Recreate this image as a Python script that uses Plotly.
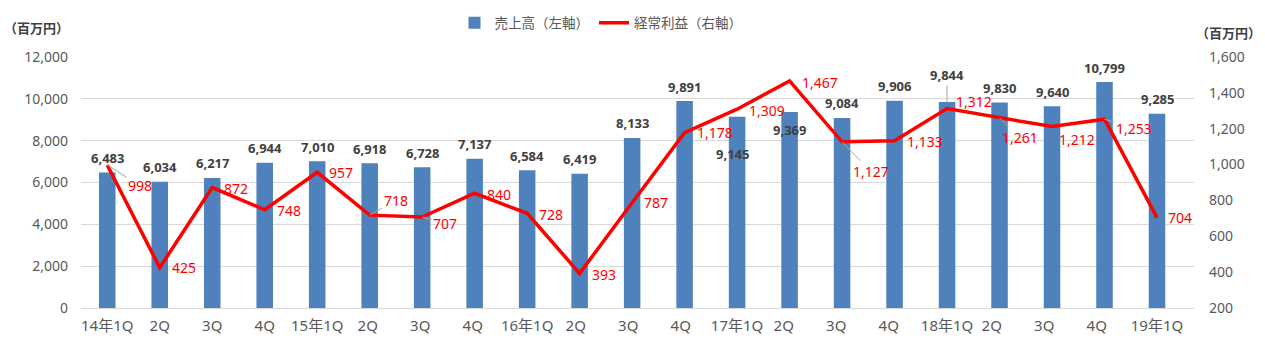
import plotly.graph_objects as go

categories = ["14年1Q", "2Q", "3Q", "4Q", "15年1Q", "2Q ", "3Q ", "4Q ", "16年1Q", "2Q  ", "3Q  ",
              "4Q  ", "17年1Q", "2Q   ", "3Q   ", "4Q   ", "18年1Q", "2Q    ", "3Q    ", "4Q    ", "19年1Q"]
sales = [6483, 6034, 6217, 6944, 7010, 6918, 6728, 7137, 6584, 6419, 8133,
         9891, 9145, 9369, 9084, 9906, 9844, 9830, 9640, 10799, 9285]
profit = [998, 425, 872, 748, 957, 718, 707, 840, 728, 393, 787,
          1178, 1309, 1467, 1127, 1133, 1312, 1261, 1212, 1253, 704]
left_ticks = [0, 2000, 4000, 6000, 8000, 10000, 12000]
right_ticks = [200, 400, 600, 800, 1000, 1200, 1400, 1600]

# label placement (pixel offsets of label centre from the mark) and leader-line flags
line_lbl_off = [(33, 21), (24, 0), (24, 1), (24, 1), (24, 0), (26, -15), (23, 6), (24, 1), (24, 1), (24, 1),
                (24, 0), (30, 0), (30, 1), (30, 2), (29, 30), (30, 1), (27, -7), (20, 20), (25, 13), (29, 9), (23, 0)]
line_leader = {0, 5, 6, 14, 17, 19}
bar_lbl_off = {12: (-5, 37), 13: (0, 18), 16: (0, -27)}
bar_leader = {16}

# plot area in pixels
L, R, T, B = 81, 1194, 57, 308
W, H = 1265, 346


def px(x):
    return (x - L) / (R - L)


def py(y):
    return (B - y) / (B - T)


BLUE = "#4F81BD"
RED = "#FF0000"
GRAY = "#595959"
DARK = "#404040"
LEADER = "#A6A6A6"
NUMFONT = "Noto Sans, Noto Sans CJK JP"
JPFONT = "Noto Sans CJK JP"

fig = go.Figure()
fig.add_trace(go.Bar(x=categories, y=sales, name="売上高（左軸）", marker=dict(color=BLUE, line=dict(width=0)),
                     yaxis="y"))
fig.add_trace(go.Scatter(x=categories, y=profit, name="経常利益（右軸）", mode="lines",
                         line=dict(color=RED, width=3.5), yaxis="y2"))

ann = []
for i, (c, v) in enumerate(zip(categories, sales)):
    ax, ay = bar_lbl_off.get(i, (0, -14.5))
    ann.append(dict(x=c, y=v, xref="x", yref="y", text=f"{v:,}", showarrow=True, ax=ax, ay=ay,
                    arrowhead=0, arrowwidth=1,
                    arrowcolor=LEADER if i in bar_leader else "rgba(0,0,0,0)",
                    font=dict(family=NUMFONT, size=13, color=DARK, weight="bold")))
for i, (c, v) in enumerate(zip(categories, profit)):
    ax, ay = line_lbl_off[i]
    ann.append(dict(x=c, y=v, xref="x", yref="y2", text=f"{v:,}", showarrow=True, ax=ax, ay=ay,
                    arrowhead=0, arrowwidth=1,
                    arrowcolor=LEADER if i in line_leader else "rgba(0,0,0,0)",
                    font=dict(family=NUMFONT, size=14, color=RED)))
ann.append(dict(x=px(36), y=py(27), xref="paper", yref="paper", text="（百万円）", showarrow=False,
                xanchor="center", yanchor="middle",
                font=dict(family=JPFONT, size=13, color=DARK, weight="bold")))
ann.append(dict(x=px(1228), y=py(32), xref="paper", yref="paper", text="（百万円）", showarrow=False,
                xanchor="center", yanchor="middle",
                font=dict(family=JPFONT, size=13, color=DARK, weight="bold")))

fig.update_layout(
    width=W, height=H,
    margin=dict(l=L, r=W - R, t=T, b=H - B, pad=0, autoexpand=False),
    paper_bgcolor="white", plot_bgcolor="white",
    bargap=0.685,
    showlegend=True,
    legend=dict(orientation="h", x=px(601), y=py(23),
                xanchor="center", yanchor="middle",
                font=dict(family=JPFONT, size=13.5, color=GRAY), itemwidth=30, tracegroupgap=0,
                bgcolor="rgba(0,0,0,0)"),
    xaxis=dict(type="category", showgrid=False, showline=False, ticks="", automargin=False,
               tickfont=dict(family=NUMFONT, size=15, color=GRAY), ticklabelstandoff=7),
    yaxis=dict(range=[0, 12000], tickvals=left_ticks, ticktext=[f"{t:,}" for t in left_ticks],
               showgrid=True, gridcolor="#D9D9D9", gridwidth=1, automargin=False,
               zeroline=True, zerolinecolor="#D9D9D9", zerolinewidth=1, showline=False, ticks="",
               tickfont=dict(family=NUMFONT, size=14, color=GRAY), ticklabelstandoff=12),
    yaxis2=dict(range=[200, 1600], tickvals=right_ticks, ticktext=[f"{t:,}" for t in right_ticks],
                overlaying="y", side="right", showgrid=False, zeroline=False, showline=False, ticks="",
                automargin=False,
                tickfont=dict(family=NUMFONT, size=14, color=GRAY), ticklabelstandoff=14),
    annotations=ann,
    hovermode=False,
)

fig.write_html("out.html")
